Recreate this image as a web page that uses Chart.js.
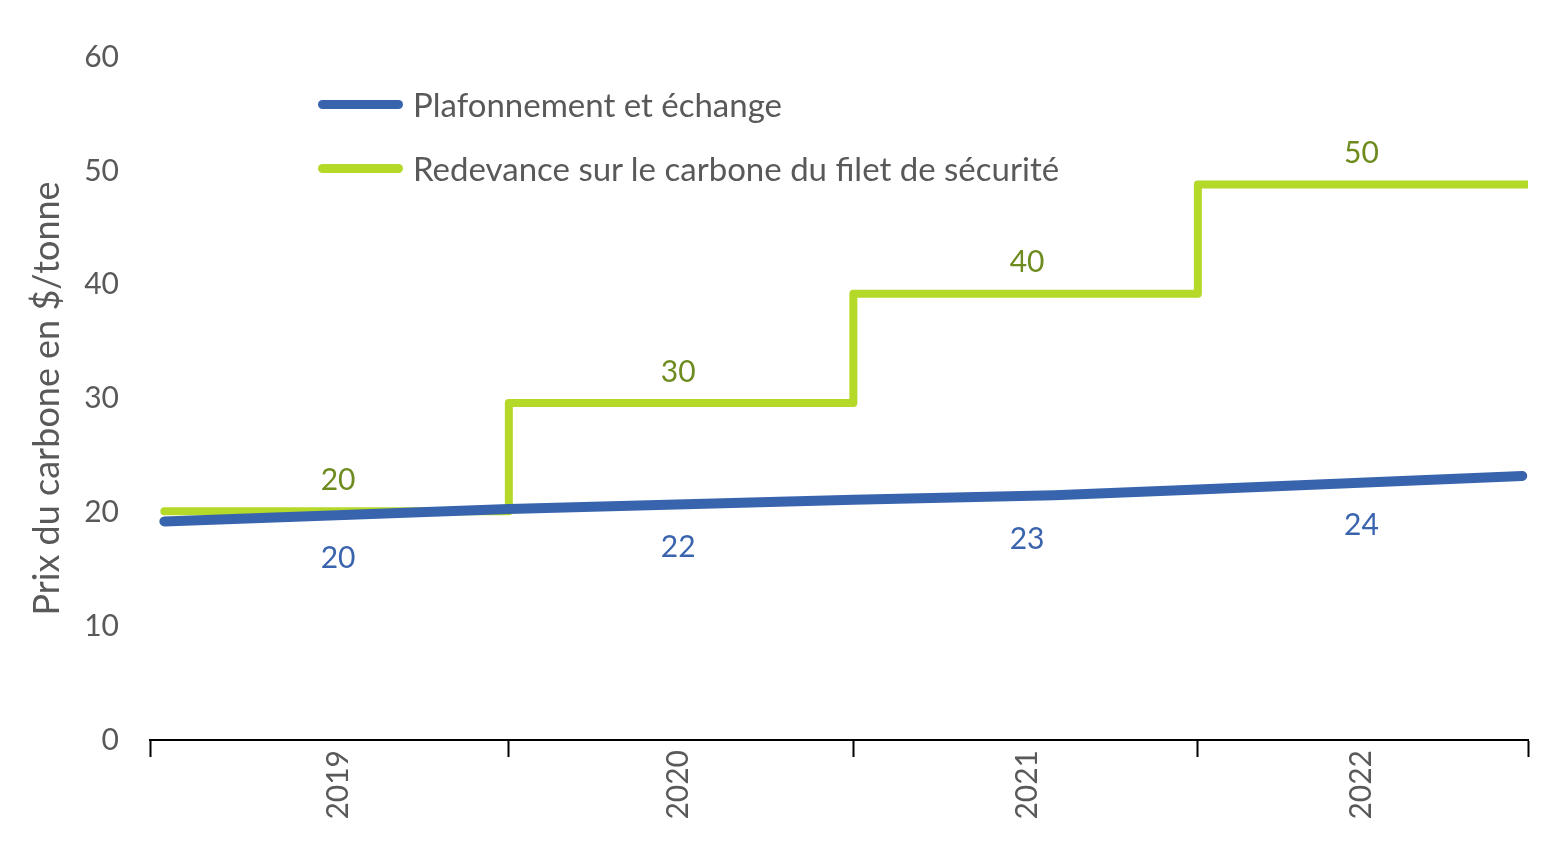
<!DOCTYPE html>
<html>
<head>
<meta charset="utf-8">
<script src="https://cdn.jsdelivr.net/npm/chart.js@4/dist/chart.umd.min.js"></script>
<style>
  body { margin: 0; background: #fff; }
  #wrap { position: relative; width: 1552px; height: 842px; }
  .legend { position: absolute; left: 318px; font: 33px Lato, sans-serif; color: #595959; display: flex; align-items: center; white-space: nowrap; }
  .legend .sw { width: 85px; height: 9px; border-radius: 5px; margin-right: 10px; }
</style>
</head>
<body>
<div id="wrap">
  <canvas id="chart" width="1552" height="842"></canvas>
  <div class="legend" style="top:84px"><span class="sw" style="background:#3864ae"></span>Plafonnement et échange</div>
  <div class="legend" style="top:148px"><span class="sw" style="background:#b5d928"></span>Redevance sur le carbone du filet de sécurité</div>
</div>
<script>
// months since start of the series on the x axis
const years = ['2019', '2020', '2021', '2022'];
const yearBounds = [0, 12.5, 24.5, 36.5, 48];
const yearMid = [6.55, 18.4, 30.55, 42.2];

const capX = [0.5, 12.5, 24.5, 31.5, 36.5, 47.8];
const capY = [19.2, 20.3, 21.1, 21.5, 22.0, 23.2];
const capLabels = [20, 22, 23, 24];

const chargeX = [0.5, 12.5, 24.5, 36.5, 48];
const chargeY = [20.1, 29.6, 39.2, 48.8, 48.8];
const chargeLabels = [20, 30, 40, 50];

const yTicks = [0, 10, 20, 30, 40, 50, 60];

function valueAt(xs, ys, x, stepped) {
  for (let i = 1; i < xs.length; i++) {
    if (x <= xs[i]) {
      if (stepped) return ys[i - 1];
      const t = (x - xs[i - 1]) / (xs[i] - xs[i - 1]);
      return ys[i - 1] + t * (ys[i] - ys[i - 1]);
    }
  }
  return ys[ys.length - 1];
}

const valueLabels = {
  id: 'valueLabels',
  afterDatasetsDraw(chart) {
    const ctx = chart.ctx;
    const xs = chart.scales.x, ys = chart.scales.y;
    const sets = [
      { x: capX, y: capY, labels: capLabels, stepped: false, dy: 43, color: '#3a64ae' },
      { x: chargeX, y: chargeY, labels: chargeLabels, stepped: true, dy: -31, color: '#6e8b1f' }
    ];
    ctx.save();
    ctx.font = '30px Lato, sans-serif';
    ctx.textAlign = 'center';
    ctx.textBaseline = 'middle';
    sets.forEach(s => {
      ctx.fillStyle = s.color;
      s.labels.forEach((lab, i) => {
        const v = valueAt(s.x, s.y, yearMid[i], s.stepped);
        ctx.fillText(String(lab), xs.getPixelForValue(yearMid[i]), ys.getPixelForValue(v) + s.dy);
      });
    });
    ctx.restore();
  }
};

const tickVals = yearBounds.concat(yearMid).sort((a, b) => a - b);

new Chart(document.getElementById('chart'), {
  type: 'line',
  data: {
    datasets: [
      {
        label: 'Plafonnement et échange',
        data: capX.map((x, i) => ({ x, y: capY[i] })),
        borderColor: '#3864ae',
        borderWidth: 10,
        borderCapStyle: 'round',
        borderJoinStyle: 'round',
        pointRadius: 0,
        tension: 0
      },
      {
        label: 'Redevance sur le carbone du filet de sécurité',
        data: chargeX.map((x, i) => ({ x, y: chargeY[i] })),
        borderColor: '#b5d928',
        borderWidth: 8,
        borderCapStyle: 'round',
        borderJoinStyle: 'round',
        stepped: 'before',
        pointRadius: 0
      }
    ]
  },
  options: {
    responsive: false,
    animation: false,
    layout: { padding: { top: 57, right: 24, left: 0, bottom: 0 } },
    plugins: { legend: { display: false }, tooltip: { enabled: false } },
    scales: {
      x: {
        type: 'linear',
        min: 0,
        max: 48,
        afterBuildTicks: s => { s.ticks = tickVals.map(v => ({ value: v })); },
        afterFit: s => { s.height = 102; s.paddingLeft = 0; s.paddingRight = 0; },
        border: { display: true, color: '#000', width: 2 },
        grid: {
          display: true,
          drawOnChartArea: false,
          drawTicks: true,
          tickLength: 17,
          tickWidth: 2,
          tickColor: c => yearBounds.includes(c.tick.value) ? '#000' : 'rgba(0,0,0,0)'
        },
        ticks: {
          autoSkip: false,
          minRotation: 90,
          maxRotation: 90,
          padding: -7,
          color: '#595959',
          font: { family: 'Lato', size: 30 },
          callback: v => { const i = yearMid.indexOf(v); return i >= 0 ? years[i] : ''; }
        }
      },
      y: {
        min: 0,
        max: 60,
        afterBuildTicks: s => { s.ticks = yTicks.map(v => ({ value: v })); },
        afterFit: s => { s.width = 150; },
        border: { display: false },
        grid: { display: false, drawTicks: false },
        ticks: { padding: 31, color: '#595959', font: { family: 'Lato', size: 30 } },
        title: {
          display: true,
          text: 'Prix du carbone en $/tonne',
          color: '#595959',
          font: { family: 'Lato', size: 36 },
          padding: { top: 26, bottom: 0 }
        }
      }
    }
  },
  plugins: [valueLabels]
});
</script>
</body>
</html>
